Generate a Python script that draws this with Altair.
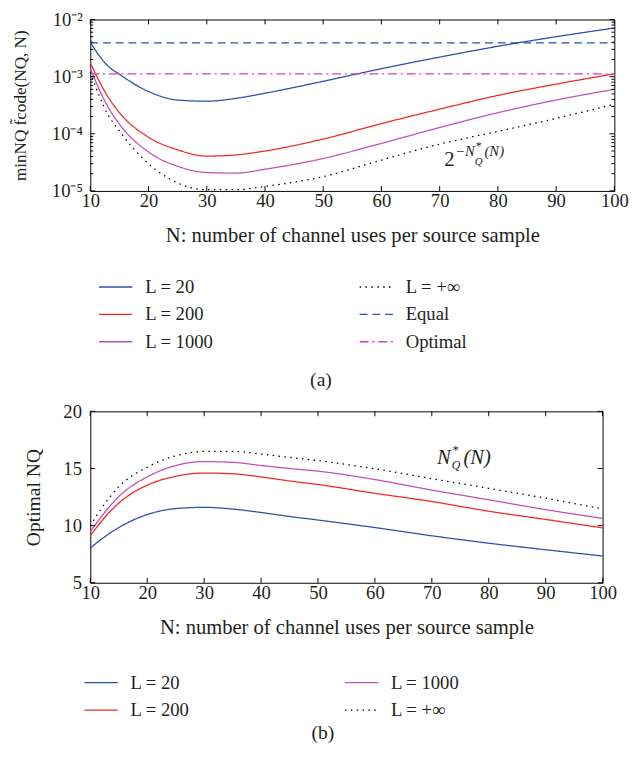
import altair as alt
import pandas as pd

# ---------------- data ----------------
# panel (a): min over N_Q of f_code (log scale)
N_top = [10, 13, 15, 20, 25, 30, 35, 40, 50, 60, 70, 80, 90, 100]
top_L20 = [3.98e-3, 1.55e-3, 1.10e-3, 5.5e-4, 3.9e-4, 3.72e-4, 4.17e-4, 5.13e-4,
           8.3e-4, 1.38e-3, 2.2e-3, 3.4e-3, 5.0e-3, 7.1e-3]
top_L200 = [1.74e-3, 4.5e-4, 2.35e-4, 8.7e-5, 5.25e-5, 4.07e-5, 4.27e-5, 5.0e-5,
            8.1e-5, 1.51e-4, 2.7e-4, 4.7e-4, 7.4e-4, 1.12e-3]
top_L1000 = [1.38e-3, 3.0e-4, 1.48e-4, 4.8e-5, 2.7e-5, 2.1e-5, 2.05e-5, 2.4e-5,
             3.7e-5, 6.8e-5, 1.29e-4, 2.34e-4, 3.9e-4, 6.0e-4]
top_Linf = [1.2e-3, 2.2e-4, 1.12e-4, 3.0e-5, 1.38e-5, 1.05e-5, 1.05e-5, 1.2e-5,
            1.78e-5, 3.47e-5, 6.6e-5, 1.1e-4, 1.86e-4, 3.3e-4]
equal_level = 3.9e-3
optimal_level = 1.12e-3

# panel (b): optimal N_Q
N_bot = [10, 12, 15, 20, 25, 30, 35, 40, 45, 50, 60, 70, 80, 90, 100]
bot_L20 = [8.03, 8.83, 9.83, 10.97, 11.49, 11.6, 11.45, 11.15, 10.8, 10.49,
           9.83, 9.11, 8.46, 7.89, 7.34]
bot_L200 = [9.11, 10.4, 11.97, 13.54, 14.31, 14.6, 14.54, 14.26, 13.91, 13.6,
            12.83, 12.11, 11.26, 10.54, 9.8]
bot_L1000 = [9.46, 10.83, 12.54, 14.26, 15.26, 15.6, 15.54, 15.26, 15.0, 14.77,
             14.03, 13.11, 12.26, 11.4, 10.63]
bot_Linf = [9.97, 11.54, 13.4, 15.11, 16.11, 16.49, 16.49, 16.26, 15.97, 15.69,
            14.97, 14.11, 13.26, 12.4, 11.46]

top_names = ["L = 20", "L = 200", "L = 1000", "L = +∞", "Equal", "Optimal"]
bot_names = ["L = 20", "L = 200", "L = 1000", "L = +∞"]

x_ticks = [10, 20, 30, 40, 50, 60, 70, 80, 90, 100]
top_y_ticks = [1e-5, 1e-4, 1e-3, 1e-2]
top_y_minor = [m * 10.0 ** e for e in (-5, -4, -3) for m in range(2, 10)]
bot_y_ticks = [5, 10, 15, 20]

# annotation anchors
top_ann = pd.DataFrame({"N": [70.8], "value": [2.68e-5]})
bot_ann = pd.DataFrame({"N": [70.9], "value": [15.37]})

# ---------------- styles ----------------
FONT = "Liberation Serif"
TXT = "#231f20"
BLUE = "#2d4fa8"
RED = "#f02828"
MAG = "#c050b8"
MAG2 = "#d040b8"
SOLID = [1, 0]
DOT = [1.5, 4.5]

top_colors = [BLUE, RED, MAG, "#000000", BLUE, MAG2]
top_dashes = [SOLID, SOLID, SOLID, DOT, [8, 5], [9, 4, 2, 4]]
bot_colors = [BLUE, RED, MAG, "#000000"]
bot_dashes = [SOLID, SOLID, SOLID, DOT]

W1, H1 = 535, 175
W2, H2 = 523, 175

# ---------------- frames ----------------
rows = []
for name, vals in [("L = 20", top_L20), ("L = 200", top_L200),
                   ("L = 1000", top_L1000), ("L = +∞", top_Linf)]:
    rows += [{"N": n, "value": v, "series": name} for n, v in zip(N_top, vals)]
rows += [{"N": n, "value": equal_level, "series": "Equal"} for n in N_top]
rows += [{"N": n, "value": optimal_level, "series": "Optimal"} for n in N_top]
top_df = pd.DataFrame(rows)

rows = []
for name, vals in [("L = 20", bot_L20), ("L = 200", bot_L200),
                   ("L = 1000", bot_L1000), ("L = +∞", bot_Linf)]:
    rows += [{"N": n, "value": v, "series": name} for n, v in zip(N_bot, vals)]
bot_df = pd.DataFrame(rows)

xt_df = pd.DataFrame({"N": x_ticks})
XSC = alt.Scale(domain=[10, 100], nice=False)


def make_legend(x, y, colpad):
    return alt.Legend(orient="none", legendX=x, legendY=y, columns=2,
                      columnPadding=colpad, rowPadding=-5, symbolType="stroke",
                      symbolSize=1156, symbolStrokeWidth=1.4,
                      labelFont=FONT, labelFontSize=19, labelColor=TXT,
                      labelOffset=12)


x_title = "N: number of channel uses per source sample"


def x_enc():
    return alt.X("N:Q", scale=XSC,
                 axis=alt.Axis(values=x_ticks, ticks=False, domain=False,
                               grid=False, labelFont=FONT, labelFontSize=19,
                               labelColor=TXT, labelPadding=1, title=x_title,
                               titleFont=FONT, titleFontSize=21,
                               titleFontWeight="normal", titleColor=TXT,
                               titlePadding=15, labelFlush=False))


def x_ticks_layer(height):
    base = alt.Chart(xt_df)
    t1 = base.mark_rule(color="black", strokeWidth=1).encode(
        x=alt.X("N:Q", scale=XSC), y=alt.value(0), y2=alt.value(5))
    t2 = base.mark_rule(color="black", strokeWidth=1).encode(
        x=alt.X("N:Q", scale=XSC), y=alt.value(height), y2=alt.value(height - 5))
    return [t1, t2]


def y_ticks_layer(vals, scale, width, length):
    d = pd.DataFrame({"value": vals})
    base = alt.Chart(d)
    l = base.mark_rule(color="black", strokeWidth=1).encode(
        y=alt.Y("value:Q", scale=scale), x=alt.value(0), x2=alt.value(length))
    r = base.mark_rule(color="black", strokeWidth=1).encode(
        y=alt.Y("value:Q", scale=scale), x=alt.value(width),
        x2=alt.value(width - length))
    return [l, r]


def ann_layer(df, scale, pieces):
    out = []
    for text, size, style, dx, dy in pieces:
        out.append(alt.Chart(df).mark_text(
            text=text, font=FONT, fontSize=size, fontStyle=style, color=TXT,
            align="left", baseline="alphabetic", dx=dx, dy=dy).encode(
            x=alt.X("N:Q", scale=XSC), y=alt.Y("value:Q", scale=scale)))
    return out


# ---------------- panel (a) ----------------
ysc_top = alt.Scale(type="log", domain=[1e-5, 1e-2], nice=False)
label_expr = ("datum.value >= 0.005 ? '10⁻²' : datum.value >= 0.0005 ? '10⁻³' : "
              "datum.value >= 0.00005 ? '10⁻⁴' : '10⁻⁵'")

top_leg = make_legend(8, 255, 146)
top_lines = alt.Chart(top_df).mark_line(strokeWidth=1.3, interpolate="monotone").encode(
    x=x_enc(),
    y=alt.Y("value:Q", scale=ysc_top,
            axis=alt.Axis(values=top_y_ticks, labelExpr=label_expr, ticks=False,
                          domain=False, grid=False, labelFont=FONT,
                          labelFontSize=19, labelColor=TXT, labelPadding=8,
                          title="minNQ f\u0303code(NQ, N)", titleFont=FONT,
                          titleFontSize=17.5, titleFontWeight="normal",
                          titleColor=TXT, titlePadding=23)),
    color=alt.Color("series:N", title=None,
                    scale=alt.Scale(domain=top_names, range=top_colors),
                    legend=top_leg),
    strokeDash=alt.StrokeDash("series:N", title=None,
                              scale=alt.Scale(domain=top_names, range=top_dashes),
                              legend=top_leg),
)

top_pieces = [("2", 21, "normal", 0, 0), ("−N", 15, "italic", 11, -11),
              ("*", 12, "normal", 32, -17), ("Q", 11, "italic", 31, -2),
              ("(N)", 15, "italic", 41, -11)]

top = alt.layer(
    top_lines,
    *x_ticks_layer(H1),
    *y_ticks_layer(top_y_ticks, ysc_top, W1, 5),
    *y_ticks_layer(top_y_minor, ysc_top, W1, 3),
    *ann_layer(top_ann, ysc_top, top_pieces),
).properties(width=W1, height=H1,
             title=alt.TitleParams("(a)", orient="bottom", font=FONT,
                                   fontSize=20, fontWeight="normal",
                                   color=TXT, offset=19, dx=-32))

# ---------------- panel (b) ----------------
ysc_bot = alt.Scale(domain=[5, 20], nice=False)
bot_leg = make_legend(-7, 259, 155)
bot_lines = alt.Chart(bot_df).mark_line(strokeWidth=1.3, interpolate="monotone").encode(
    x=x_enc(),
    y=alt.Y("value:Q", scale=ysc_bot,
            axis=alt.Axis(values=bot_y_ticks, ticks=False, domain=False,
                          grid=False, labelFont=FONT, labelFontSize=19,
                          labelColor=TXT, labelPadding=9,
                          title="Optimal NQ", titleFont=FONT, titleFontSize=20,
                          titleFontWeight="normal", titleColor=TXT,
                          titlePadding=20)),
    color=alt.Color("series:N", title=None,
                    scale=alt.Scale(domain=bot_names, range=bot_colors),
                    legend=bot_leg),
    strokeDash=alt.StrokeDash("series:N", title=None,
                              scale=alt.Scale(domain=bot_names, range=bot_dashes),
                              legend=bot_leg),
)

bot_pieces = [("N", 21, "italic", 0, 0), ("*", 13, "normal", 16, -10),
              ("Q", 12, "italic", 15, 5), ("(N)", 21, "italic", 27, 0)]

bottom = alt.layer(
    bot_lines,
    *x_ticks_layer(H2),
    *y_ticks_layer(bot_y_ticks, ysc_bot, W2, 5),
    *ann_layer(bot_ann, ysc_bot, bot_pieces),
).properties(width=W2, height=H2,
             title=alt.TitleParams("(b)", orient="bottom", font=FONT,
                                   fontSize=20, fontWeight="normal",
                                   color=TXT, offset=4, dx=-24))

chart = alt.vconcat(top, bottom, spacing=11).resolve_scale(
    color="independent", strokeDash="independent"
).configure_view(stroke="black", strokeWidth=1).properties(
    padding={"left": 2, "top": -6, "right": 2, "bottom": 0})

chart.save("out.html", embed_options={"renderer": "svg", "actions": False})
